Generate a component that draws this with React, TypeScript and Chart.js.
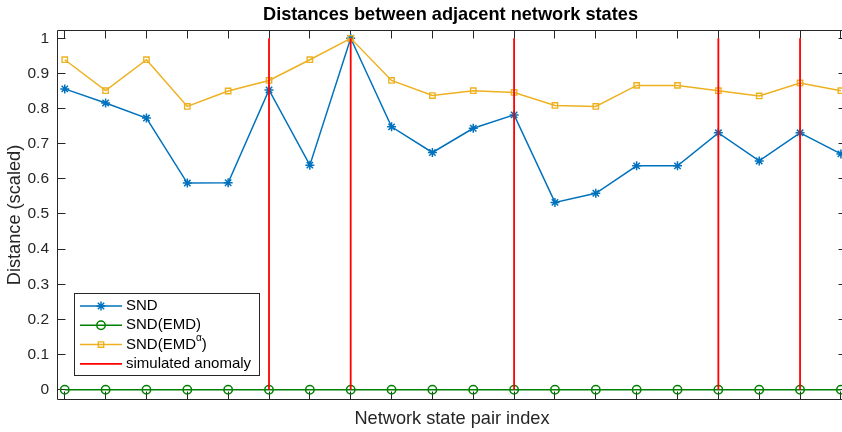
import React, { useEffect, useRef } from 'react';
import { Chart, registerables } from 'chart.js';
import { drawPoint } from 'chart.js/helpers';

Chart.register(...registerables);

// Index of each adjacent pair of network states
const pairIndex = [1, 2, 3, 4, 5, 6, 7, 8, 9, 10, 11, 12, 13, 14, 15, 16, 17, 18, 19, 20];

// Scaled distances for each method
const snd = [0.856, 0.816, 0.773, 0.588, 0.589, 0.853, 0.639, 1.0, 0.748, 0.675,
  0.744, 0.782, 0.533, 0.559, 0.637, 0.637, 0.731, 0.651, 0.731, 0.671];
const sndEmd = [0, 0, 0, 0, 0, 0, 0, 0, 0, 0, 0, 0, 0, 0, 0, 0, 0, 0, 0, 0];
const sndEmdAlpha = [0.939, 0.851, 0.939, 0.806, 0.850, 0.880, 0.939, 1.0, 0.880, 0.837,
  0.851, 0.846, 0.809, 0.806, 0.866, 0.866, 0.851, 0.836, 0.873, 0.851];

// Pairs where an anomaly was injected
const anomalyIndex = [6, 8, 12, 17, 19];

const yTickValues = [0, 0.1, 0.2, 0.3, 0.4, 0.5, 0.6, 0.7, 0.8, 0.9, 1];
const yTickLabels = ['0', '0.1', '0.2', '0.3', '0.4', '0.5', '0.6', '0.7', '0.8', '0.9', '1'];

const legendLabels = ['SND', 'SND(EMD)', 'SND(EMD^{α})', 'simulated anomaly'];

const titleText = 'Distances between adjacent network states';
const xTitle = 'Network state pair index';
const yTitle = 'Distance (scaled)';

const X_MIN = 0.8225;
const X_MAX = 20.137;
const Y_MIN = -0.0279;
const Y_MAX = 1.0222;

const FONT = "'Liberation Sans', Arial, Helvetica, sans-serif";
const AXIS = '#262626';
const BLUE = '#0072BD';
const GREEN = '#008000';
const ORANGE = '#EDB120';
const RED = '#FF0000';
const TICK = 8;

// The axes box runs slightly past the visible right edge, so the canvas is
// a little wider than the frame that shows it.
const CANVAS_W = 848;
const CANVAS_H = 432;

// Boxed axes with inward ticks on all four sides, plus the axes title
const framePlugin = {
  id: 'frame',
  beforeDatasetsDraw(chart: any) {
    const { ctx, chartArea: a, scales } = chart;
    const xs = scales.x;
    const ys = scales.y;
    ctx.save();
    ctx.strokeStyle = AXIS;
    ctx.lineWidth = 1;
    ctx.beginPath();
    ctx.rect(a.left, a.top, a.right - a.left, a.bottom - a.top);
    for (const v of pairIndex) {
      const px = Math.floor(xs.getPixelForValue(v)) + 0.5;
      ctx.moveTo(px, a.bottom);
      ctx.lineTo(px, a.bottom - TICK);
      ctx.moveTo(px, a.top);
      ctx.lineTo(px, a.top + TICK);
    }
    for (const v of yTickValues) {
      const py = Math.floor(ys.getPixelForValue(v)) + 0.5;
      ctx.moveTo(a.left, py);
      ctx.lineTo(a.left + TICK, py);
      ctx.moveTo(a.right, py);
      ctx.lineTo(a.right - TICK, py);
    }
    ctx.stroke();

    ctx.fillStyle = '#000';
    ctx.font = `bold 18.2px ${FONT}`;
    ctx.textAlign = 'center';
    ctx.textBaseline = 'alphabetic';
    ctx.fillText(titleText, (a.left + a.right) / 2 - 1.5, 20);
    ctx.restore();
  },
};

// Boxed legend in the lower-left corner of the axes
const legendPlugin = {
  id: 'boxLegend',
  afterDraw(chart: any) {
    const { ctx } = chart;
    const ds = chart.data.datasets;
    const bx = 74.5;
    const by = 293.5;
    const bw = 185;
    const bh = 82;
    ctx.save();
    ctx.fillStyle = '#fff';
    ctx.fillRect(bx, by, bw, bh);
    ctx.strokeStyle = AXIS;
    ctx.lineWidth = 1;
    ctx.strokeRect(bx, by, bw, bh);

    legendLabels.forEach((label, i) => {
      const d = ds[i];
      const yy = 306 + i * 19.3;
      ctx.strokeStyle = d.borderColor;
      ctx.lineWidth = d.borderWidth;
      ctx.beginPath();
      ctx.moveTo(80, yy);
      ctx.lineTo(122, yy);
      ctx.stroke();
      if (d.pointRadius) {
        ctx.fillStyle = d.pointBackgroundColor;
        ctx.strokeStyle = d.pointBorderColor;
        ctx.lineWidth = d.pointBorderWidth;
        drawPoint(ctx, {
          pointStyle: d.pointStyle,
          radius: d.pointRadius,
          borderWidth: d.pointBorderWidth,
          rotation: 0,
        } as any, 101, yy);
      }

      ctx.fillStyle = '#000';
      ctx.textAlign = 'left';
      ctx.textBaseline = 'middle';
      let tx = 126;
      const parts = label.split(/(\^\{[^}]*\})/);
      for (const p of parts) {
        if (!p) continue;
        if (p.startsWith('^{')) {
          const sup = p.slice(2, -1);
          ctx.font = `10px ${FONT}`;
          ctx.fillText(sup, tx, yy - 6);
          tx += ctx.measureText(sup).width;
        } else {
          ctx.font = `15px ${FONT}`;
          ctx.fillText(p, tx, yy);
          tx += ctx.measureText(p).width;
        }
      }
    });
    ctx.restore();
  },
};

export default function App() {
  const canvasRef = useRef<HTMLCanvasElement>(null);

  useEffect(() => {
    const canvas = canvasRef.current;
    if (!canvas) return;

    const lineBase = {
      borderWidth: 1.5,
      fill: false,
      tension: 0,
      clip: false as any,
    };

    const datasets: any[] = [
      {
        ...lineBase,
        label: legendLabels[0],
        data: pairIndex.map((x, i) => ({ x, y: snd[i] })),
        borderColor: BLUE,
        pointStyle: 'star',
        pointRadius: 4.5,
        pointBorderColor: BLUE,
        pointBackgroundColor: BLUE,
        pointBorderWidth: 1.5,
        order: 4,
      },
      {
        ...lineBase,
        label: legendLabels[1],
        data: pairIndex.map((x, i) => ({ x, y: sndEmd[i] })),
        borderColor: GREEN,
        pointStyle: 'circle',
        pointRadius: 4.2,
        pointBorderColor: GREEN,
        pointBackgroundColor: 'rgba(0,0,0,0)',
        pointBorderWidth: 1.5,
        order: 3,
      },
      {
        ...lineBase,
        label: legendLabels[2],
        data: pairIndex.map((x, i) => ({ x, y: sndEmdAlpha[i] })),
        borderColor: ORANGE,
        pointStyle: 'rect',
        pointRadius: 3.8,
        pointBorderColor: ORANGE,
        pointBackgroundColor: 'rgba(0,0,0,0)',
        pointBorderWidth: 1.4,
        order: 2,
      },
      ...anomalyIndex.map((x) => ({
        label: legendLabels[3],
        data: [{ x, y: 0 }, { x, y: 1 }],
        borderColor: RED,
        borderWidth: 1.8,
        pointRadius: 0,
        fill: false,
        order: 1,
      })),
    ];

    const chart = new Chart(canvas, {
      type: 'line',
      data: { datasets },
      plugins: [framePlugin, legendPlugin],
      options: {
        responsive: false,
        animation: false,
        devicePixelRatio: 1,
        layout: {
          autoPadding: false,
          padding: { top: 30.5, right: CANVAS_W - 846.5, left: 0, bottom: 0 },
        },
        plugins: {
          legend: { display: false },
          title: { display: false },
          tooltip: { enabled: false },
        },
        scales: {
          x: {
            type: 'linear',
            min: X_MIN,
            max: X_MAX,
            grid: { display: false, drawTicks: false },
            border: { display: false },
            ticks: { display: false },
            title: {
              display: true,
              text: xTitle,
              color: AXIS,
              font: { family: FONT, size: 18.2 },
              padding: { top: 0, bottom: 2.5 },
            },
            afterFit: (s: any) => { s.height = 32.5; },
          },
          y: {
            type: 'linear',
            min: Y_MIN,
            max: Y_MAX,
            grid: { display: false, drawTicks: false },
            border: { display: false },
            afterBuildTicks: (s: any) => { s.ticks = yTickValues.map((value) => ({ value })); },
            ticks: {
              color: AXIS,
              font: { family: FONT, size: 15.5 },
              padding: 8.5,
              callback: (_v: any, i: number) => yTickLabels[i],
            },
            title: {
              display: true,
              text: yTitle,
              color: AXIS,
              font: { family: FONT, size: 18.2 },
              padding: { top: 4, bottom: 0 },
            },
            afterFit: (s: any) => { s.width = 57.5; },
          },
        },
      } as any,
    });

    return () => chart.destroy();
  }, []);

  return (
    <div style={{ position: 'fixed', left: 0, top: 0, width: 842, height: CANVAS_H, overflow: 'hidden', background: '#fff' }}>
      <canvas ref={canvasRef} width={CANVAS_W} height={CANVAS_H} style={{ display: 'block' }} />
    </div>
  );
}
